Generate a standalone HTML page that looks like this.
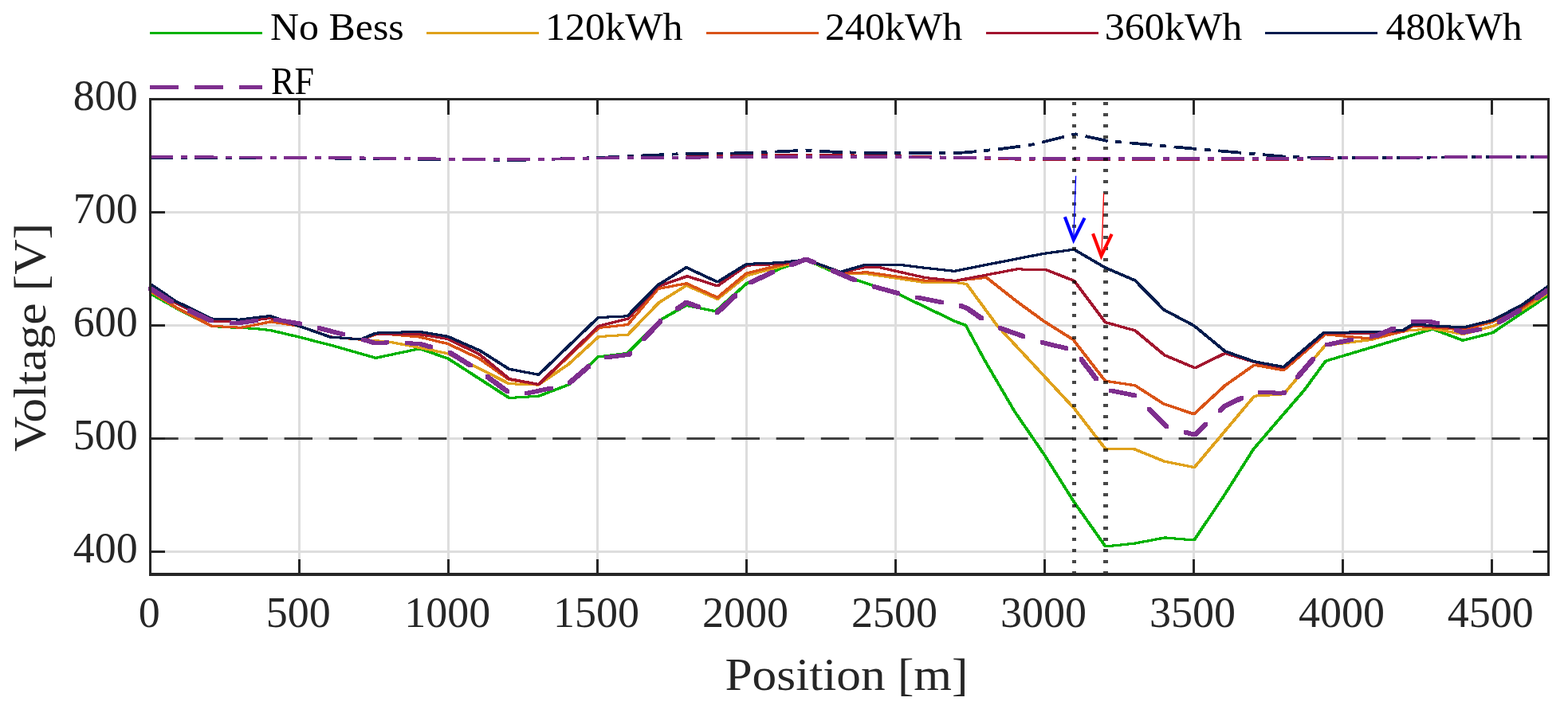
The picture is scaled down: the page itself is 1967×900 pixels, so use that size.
<!DOCTYPE html>
<html><head><meta charset="utf-8"><title>Voltage vs Position</title>
<style>html,body{margin:0;padding:0;background:#fff;width:1967px;height:900px;overflow:hidden}svg{display:block}</style>
</head><body>
<svg width="1967" height="900" viewBox="0 0 1967 900">
<defs><filter id="dil" x="0" y="0" width="1967" height="900" filterUnits="userSpaceOnUse"><feMorphology operator="dilate" radius="1"/></filter><filter id="dil2" x="0" y="0" width="1967" height="900" filterUnits="userSpaceOnUse"><feMorphology operator="dilate" radius="2"/></filter></defs>
<rect width="1967" height="900" fill="#fff"/>
<rect x="374" y="126" width="3" height="593" fill="#DDDDDD" shape-rendering="crispEdges"/>
<rect x="561" y="126" width="3" height="593" fill="#DDDDDD" shape-rendering="crispEdges"/>
<rect x="748" y="126" width="3" height="593" fill="#DDDDDD" shape-rendering="crispEdges"/>
<rect x="935" y="126" width="3" height="593" fill="#DDDDDD" shape-rendering="crispEdges"/>
<rect x="1122" y="126" width="3" height="593" fill="#DDDDDD" shape-rendering="crispEdges"/>
<rect x="1309" y="126" width="3" height="593" fill="#DDDDDD" shape-rendering="crispEdges"/>
<rect x="1496" y="126" width="3" height="593" fill="#DDDDDD" shape-rendering="crispEdges"/>
<rect x="1683" y="126" width="3" height="593" fill="#DDDDDD" shape-rendering="crispEdges"/>
<rect x="1870" y="126" width="3" height="593" fill="#DDDDDD" shape-rendering="crispEdges"/>
<rect x="190" y="265" width="1751" height="3" fill="#DDDDDD" shape-rendering="crispEdges"/>
<rect x="190" y="407" width="1751" height="3" fill="#DDDDDD" shape-rendering="crispEdges"/>
<rect x="190" y="549" width="1751" height="3" fill="#DDDDDD" shape-rendering="crispEdges"/>
<rect x="190" y="691" width="1751" height="3" fill="#DDDDDD" shape-rendering="crispEdges"/>
<polyline points="188.4,197.1 420.0,198.0 540.0,199.3 600.0,200.3 660.0,200.3 700.0,199.5 750.0,198.5 800.0,198.0 860.0,197.5 880.0,195.8 940.0,195.5 1011.0,195.0 1100.0,195.6 1140.0,196.5 1250.0,199.0 1300.0,200.3 1500.0,200.6 1615.0,200.2 1680.0,198.6 1730.0,197.9 1845.0,197.2 1942.2,196.7" fill="none" stroke="#A2142F" stroke-width="3.8" stroke-linejoin="miter" stroke-miterlimit="3" shape-rendering="crispEdges" stroke-dasharray="28.7 9.7 7.9 9.7"/>
<polyline points="188.4,198.3 420.0,198.6 540.0,199.8 600.0,200.6 660.0,200.6 700.0,199.5 750.0,198.0 787.0,196.3 825.0,194.5 861.0,192.8 936.7,192.3 1011.3,188.6 1050.0,191.0 1100.0,192.2 1200.0,192.2 1225.0,190.2 1258.1,186.6 1296.3,181.3 1335.9,171.4 1349.6,168.3 1387.8,176.7 1445.7,182.0 1500.6,186.9 1560.0,192.0 1610.0,196.5 1650.0,197.8 1730.0,198.0 1845.0,197.3 1942.2,196.8" fill="none" stroke="#011B4E" stroke-width="3.8" stroke-linejoin="miter" stroke-miterlimit="3" shape-rendering="crispEdges" stroke-dasharray="28.7 9.7 7.9 9.7"/>
<polyline points="188.4,197.1 420.0,198.0 540.0,199.3 600.0,200.3 660.0,200.3 700.0,199.5 750.0,198.5 800.0,198.0 940.0,197.3 1011.0,196.8 1100.0,197.0 1250.0,198.4 1300.0,199.1 1500.0,199.4 1615.0,199.1 1730.0,197.9 1845.0,197.2 1942.2,196.7" fill="none" stroke="#7E2F8E" stroke-width="3.8" stroke-linejoin="miter" stroke-miterlimit="3" shape-rendering="crispEdges" stroke-dasharray="28.7 9.7 7.9 9.7"/>
<polyline points="188.4,368.5 222.0,387.2 265.6,409.5 302.5,411.8 316.8,412.1 338.8,414.5 375.4,423.1 420.0,434.6 471.3,449.3 526.3,437.7 561.8,449.9 638.7,499.5 675.8,497.2 714.3,482.5 750.4,447.7 758.3,447.0 787.0,443.4 830.4,400.4 861.0,383.3 897.6,390.7 936.7,355.8 979.5,336.9 1011.3,326.0 1048.4,342.5 1128.6,370.0 1198.0,403.3 1211.5,408.4 1235.4,452.5 1272.8,516.5 1310.2,571.0 1347.6,630.5 1386.8,686.0 1422.2,682.3 1461.3,674.9 1498.0,678.0 1535.6,622.0 1572.3,564.0 1610.0,520.0 1636.0,490.0 1662.8,453.3 1797.2,413.0 1835.1,427.2 1872.2,417.8 1908.9,393.3 1942.2,370.6" fill="none" stroke="#00B200" stroke-width="1" shape-rendering="crispEdges" filter="url(#dil)"/>
<polyline points="188.4,365.3 222.0,386.8 265.6,409.3 302.5,411.3 340.0,403.9 375.4,409.3 414.5,423.0 453.0,426.2 488.4,429.1 526.3,436.4 561.8,443.8 601.0,462.5 638.7,481.7 675.2,483.1 713.1,457.4 751.0,422.6 787.6,420.2 826.8,379.7 861.0,358.3 900.1,375.4 936.7,346.0 979.5,334.4 1011.3,326.0 1057.8,344.0 1087.1,343.6 1160.4,354.6 1198.3,354.4 1212.6,356.5 1251.0,408.8 1347.5,512.6 1386.6,563.3 1423.3,563.9 1461.1,579.3 1498.4,586.6 1573.5,497.2 1610.2,494.8 1662.2,433.8 1720.2,426.4 1760.5,415.5 1797.2,412.5 1835.6,419.5 1874.4,408.9 1908.9,389.0 1942.2,367.8" fill="none" stroke="#DFA11A" stroke-width="1" shape-rendering="crispEdges" filter="url(#dil)"/>
<polyline points="188.4,364.8 222.0,386.5 265.6,409.3 302.5,411.3 340.0,403.7 375.4,409.3 414.5,422.9 453.0,426.3 471.3,419.8 493.0,420.0 526.3,423.0 561.8,431.5 600.9,449.9 638.7,476.5 675.8,483.0 751.0,411.5 787.6,407.5 825.5,362.5 861.0,355.8 900.1,373.5 936.7,343.0 979.5,332.6 1011.3,326.0 1057.8,343.0 1087.1,341.8 1160.4,352.2 1198.3,352.5 1237.4,348.3 1275.3,378.2 1310.0,403.5 1346.2,426.3 1386.5,478.2 1423.8,483.8 1459.9,507.0 1497.8,519.8 1536.9,483.8 1573.5,458.1 1610.2,464.8 1662.2,419.7 1720.2,425.2 1760.5,416.0 1772.8,409.0 1797.2,411.0 1835.6,414.0 1872.2,404.0 1908.9,387.0 1942.2,363.0" fill="none" stroke="#D95319" stroke-width="1" shape-rendering="crispEdges" filter="url(#dil)"/>
<polyline points="188.4,359.2 220.2,380.3 266.0,403.0 300.9,404.5 338.8,399.3 375.4,409.3 414.5,422.9 453.0,426.0 471.3,419.2 488.4,419.5 523.9,419.3 561.8,425.4 600.9,444.4 638.7,475.5 675.8,482.5 751.0,409.2 787.6,400.2 825.5,359.5 862.2,346.7 900.1,358.9 936.7,333.2 979.5,331.4 1011.3,325.9 1055.3,341.8 1087.1,335.1 1102.0,335.4 1160.4,348.5 1198.3,352.5 1235.4,345.5 1275.3,337.9 1312.0,338.5 1347.4,352.5 1386.5,404.5 1423.8,414.9 1461.1,445.9 1499.0,461.8 1536.9,443.4 1573.5,454.4 1610.2,461.8 1660.9,418.5 1727.5,418.0 1760.5,415.5 1772.8,408.0 1797.2,410.0 1835.6,412.0 1872.2,402.0 1908.9,385.0 1942.2,361.0" fill="none" stroke="#A2142F" stroke-width="1" shape-rendering="crispEdges" filter="url(#dil)"/>
<polyline points="188.4,356.5 220.2,378.0 266.0,400.3 300.9,401.1 338.8,396.5 414.5,423.1 453.0,426.0 471.3,418.1 488.4,417.5 526.3,416.3 561.8,422.4 602.1,440.1 638.7,463.3 675.8,470.3 750.4,398.6 787.0,396.8 825.5,357.7 861.0,335.7 900.1,354.0 936.7,331.4 979.5,329.6 1011.3,325.9 1054.0,341.5 1084.6,332.6 1131.1,332.6 1160.4,336.3 1197.1,340.3 1235.4,332.8 1272.8,325.4 1309.5,318.3 1347.4,313.2 1386.5,336.0 1423.8,352.0 1459.9,388.7 1497.8,408.8 1536.9,441.0 1573.5,453.8 1610.2,460.6 1660.9,417.3 1727.5,416.7 1760.5,414.2 1772.8,406.9 1797.2,408.7 1835.6,411.0 1872.2,402.2 1908.9,383.0 1942.2,359.4" fill="none" stroke="#011B4E" stroke-width="1" shape-rendering="crispEdges" filter="url(#dil)"/>
<polyline points="188.4,362.0 220.2,382.0 266.7,403.5 296.0,406.0 338.8,400.0 379.0,406.6 420.0,416.9 453.0,425.4 471.3,430.9 488.4,429.7 526.3,431.5 543.4,436.4 564.2,442.5 602.0,466.0 640.0,493.9 659.3,494.1 693.5,486.8 714.3,480.7 740.0,458.7 758.3,448.9 788.9,445.2 830.4,401.2 861.0,379.7 898.9,393.1 938.0,356.4 969.8,341.2 989.3,333.8 1011.3,325.3 1074.9,352.8 1093.2,358.9 1128.6,368.7 1148.2,372.9 1182.4,379.7 1203.2,383.1 1213.0,386.8 1233.8,401.4 1252.1,411.0 1285.1,422.6 1304.6,429.3 1347.6,439.5 1385.0,488.5 1424.4,496.6 1465.0,537.0 1499.0,545.7 1536.9,509.4 1573.5,492.0 1610.2,493.5 1662.2,433.5 1697.0,425.8 1727.5,421.0 1750.8,411.2 1771.5,403.2 1793.5,403.8 1805.8,406.3 1835.1,417.3 1858.3,413.0 1877.8,406.1 1908.9,387.8 1942.2,363.9" fill="none" stroke="#7E2F8E" stroke-width="1" stroke-dasharray="32 24" shape-rendering="crispEdges" filter="url(#dil2)"/>
<line x1="188.3" y1="550.5" x2="1941" y2="550.5" stroke="rgba(0,0,0,0.71)" stroke-width="3" stroke-dasharray="35.4 20.7"/>
<rect x="1345" y="128" width="5" height="4" fill="rgba(0,0,0,0.72)" shape-rendering="crispEdges"/>
<rect x="1345" y="142" width="5" height="4" fill="rgba(0,0,0,0.72)" shape-rendering="crispEdges"/>
<rect x="1345" y="156" width="5" height="4" fill="rgba(0,0,0,0.72)" shape-rendering="crispEdges"/>
<rect x="1345" y="170" width="5" height="4" fill="rgba(0,0,0,0.72)" shape-rendering="crispEdges"/>
<rect x="1345" y="184" width="5" height="4" fill="rgba(0,0,0,0.72)" shape-rendering="crispEdges"/>
<rect x="1345" y="198" width="5" height="4" fill="rgba(0,0,0,0.72)" shape-rendering="crispEdges"/>
<rect x="1345" y="212" width="5" height="4" fill="rgba(0,0,0,0.72)" shape-rendering="crispEdges"/>
<rect x="1345" y="226" width="5" height="4" fill="rgba(0,0,0,0.72)" shape-rendering="crispEdges"/>
<rect x="1345" y="240" width="5" height="4" fill="rgba(0,0,0,0.72)" shape-rendering="crispEdges"/>
<rect x="1345" y="254" width="5" height="4" fill="rgba(0,0,0,0.72)" shape-rendering="crispEdges"/>
<rect x="1345" y="268" width="5" height="4" fill="rgba(0,0,0,0.72)" shape-rendering="crispEdges"/>
<rect x="1345" y="282" width="5" height="4" fill="rgba(0,0,0,0.72)" shape-rendering="crispEdges"/>
<rect x="1345" y="296" width="5" height="4" fill="rgba(0,0,0,0.72)" shape-rendering="crispEdges"/>
<rect x="1345" y="310" width="5" height="4" fill="rgba(0,0,0,0.72)" shape-rendering="crispEdges"/>
<rect x="1345" y="324" width="5" height="4" fill="rgba(0,0,0,0.72)" shape-rendering="crispEdges"/>
<rect x="1345" y="338" width="5" height="4" fill="rgba(0,0,0,0.72)" shape-rendering="crispEdges"/>
<rect x="1345" y="352" width="5" height="4" fill="rgba(0,0,0,0.72)" shape-rendering="crispEdges"/>
<rect x="1345" y="366" width="5" height="4" fill="rgba(0,0,0,0.72)" shape-rendering="crispEdges"/>
<rect x="1345" y="380" width="5" height="4" fill="rgba(0,0,0,0.72)" shape-rendering="crispEdges"/>
<rect x="1345" y="394" width="5" height="4" fill="rgba(0,0,0,0.72)" shape-rendering="crispEdges"/>
<rect x="1345" y="408" width="5" height="4" fill="rgba(0,0,0,0.72)" shape-rendering="crispEdges"/>
<rect x="1345" y="422" width="5" height="4" fill="rgba(0,0,0,0.72)" shape-rendering="crispEdges"/>
<rect x="1345" y="436" width="5" height="4" fill="rgba(0,0,0,0.72)" shape-rendering="crispEdges"/>
<rect x="1345" y="450" width="5" height="4" fill="rgba(0,0,0,0.72)" shape-rendering="crispEdges"/>
<rect x="1345" y="464" width="5" height="4" fill="rgba(0,0,0,0.72)" shape-rendering="crispEdges"/>
<rect x="1345" y="478" width="5" height="4" fill="rgba(0,0,0,0.72)" shape-rendering="crispEdges"/>
<rect x="1345" y="493" width="5" height="4" fill="rgba(0,0,0,0.72)" shape-rendering="crispEdges"/>
<rect x="1345" y="507" width="5" height="4" fill="rgba(0,0,0,0.72)" shape-rendering="crispEdges"/>
<rect x="1345" y="521" width="5" height="4" fill="rgba(0,0,0,0.72)" shape-rendering="crispEdges"/>
<rect x="1345" y="535" width="5" height="4" fill="rgba(0,0,0,0.72)" shape-rendering="crispEdges"/>
<rect x="1345" y="549" width="5" height="4" fill="rgba(0,0,0,0.72)" shape-rendering="crispEdges"/>
<rect x="1345" y="563" width="5" height="4" fill="rgba(0,0,0,0.72)" shape-rendering="crispEdges"/>
<rect x="1345" y="577" width="5" height="4" fill="rgba(0,0,0,0.72)" shape-rendering="crispEdges"/>
<rect x="1345" y="591" width="5" height="4" fill="rgba(0,0,0,0.72)" shape-rendering="crispEdges"/>
<rect x="1345" y="605" width="5" height="4" fill="rgba(0,0,0,0.72)" shape-rendering="crispEdges"/>
<rect x="1345" y="619" width="5" height="4" fill="rgba(0,0,0,0.72)" shape-rendering="crispEdges"/>
<rect x="1345" y="633" width="5" height="4" fill="rgba(0,0,0,0.72)" shape-rendering="crispEdges"/>
<rect x="1345" y="647" width="5" height="4" fill="rgba(0,0,0,0.72)" shape-rendering="crispEdges"/>
<rect x="1345" y="661" width="5" height="4" fill="rgba(0,0,0,0.72)" shape-rendering="crispEdges"/>
<rect x="1345" y="675" width="5" height="4" fill="rgba(0,0,0,0.72)" shape-rendering="crispEdges"/>
<rect x="1345" y="689" width="5" height="4" fill="rgba(0,0,0,0.72)" shape-rendering="crispEdges"/>
<rect x="1345" y="703" width="5" height="4" fill="rgba(0,0,0,0.72)" shape-rendering="crispEdges"/>
<rect x="1345" y="717" width="5" height="4" fill="rgba(0,0,0,0.72)" shape-rendering="crispEdges"/>
<rect x="1384" y="128" width="6" height="4" fill="rgba(0,0,0,0.72)" shape-rendering="crispEdges"/>
<rect x="1384" y="142" width="6" height="4" fill="rgba(0,0,0,0.72)" shape-rendering="crispEdges"/>
<rect x="1384" y="156" width="6" height="4" fill="rgba(0,0,0,0.72)" shape-rendering="crispEdges"/>
<rect x="1384" y="170" width="6" height="4" fill="rgba(0,0,0,0.72)" shape-rendering="crispEdges"/>
<rect x="1384" y="184" width="6" height="4" fill="rgba(0,0,0,0.72)" shape-rendering="crispEdges"/>
<rect x="1384" y="198" width="6" height="4" fill="rgba(0,0,0,0.72)" shape-rendering="crispEdges"/>
<rect x="1384" y="212" width="6" height="4" fill="rgba(0,0,0,0.72)" shape-rendering="crispEdges"/>
<rect x="1384" y="226" width="6" height="4" fill="rgba(0,0,0,0.72)" shape-rendering="crispEdges"/>
<rect x="1384" y="240" width="6" height="4" fill="rgba(0,0,0,0.72)" shape-rendering="crispEdges"/>
<rect x="1384" y="254" width="6" height="4" fill="rgba(0,0,0,0.72)" shape-rendering="crispEdges"/>
<rect x="1384" y="268" width="6" height="4" fill="rgba(0,0,0,0.72)" shape-rendering="crispEdges"/>
<rect x="1384" y="282" width="6" height="4" fill="rgba(0,0,0,0.72)" shape-rendering="crispEdges"/>
<rect x="1384" y="296" width="6" height="4" fill="rgba(0,0,0,0.72)" shape-rendering="crispEdges"/>
<rect x="1384" y="310" width="6" height="4" fill="rgba(0,0,0,0.72)" shape-rendering="crispEdges"/>
<rect x="1384" y="324" width="6" height="4" fill="rgba(0,0,0,0.72)" shape-rendering="crispEdges"/>
<rect x="1384" y="338" width="6" height="4" fill="rgba(0,0,0,0.72)" shape-rendering="crispEdges"/>
<rect x="1384" y="352" width="6" height="4" fill="rgba(0,0,0,0.72)" shape-rendering="crispEdges"/>
<rect x="1384" y="366" width="6" height="4" fill="rgba(0,0,0,0.72)" shape-rendering="crispEdges"/>
<rect x="1384" y="380" width="6" height="4" fill="rgba(0,0,0,0.72)" shape-rendering="crispEdges"/>
<rect x="1384" y="394" width="6" height="4" fill="rgba(0,0,0,0.72)" shape-rendering="crispEdges"/>
<rect x="1384" y="408" width="6" height="4" fill="rgba(0,0,0,0.72)" shape-rendering="crispEdges"/>
<rect x="1384" y="422" width="6" height="4" fill="rgba(0,0,0,0.72)" shape-rendering="crispEdges"/>
<rect x="1384" y="436" width="6" height="4" fill="rgba(0,0,0,0.72)" shape-rendering="crispEdges"/>
<rect x="1384" y="450" width="6" height="4" fill="rgba(0,0,0,0.72)" shape-rendering="crispEdges"/>
<rect x="1384" y="464" width="6" height="4" fill="rgba(0,0,0,0.72)" shape-rendering="crispEdges"/>
<rect x="1384" y="478" width="6" height="4" fill="rgba(0,0,0,0.72)" shape-rendering="crispEdges"/>
<rect x="1384" y="493" width="6" height="4" fill="rgba(0,0,0,0.72)" shape-rendering="crispEdges"/>
<rect x="1384" y="507" width="6" height="4" fill="rgba(0,0,0,0.72)" shape-rendering="crispEdges"/>
<rect x="1384" y="521" width="6" height="4" fill="rgba(0,0,0,0.72)" shape-rendering="crispEdges"/>
<rect x="1384" y="535" width="6" height="4" fill="rgba(0,0,0,0.72)" shape-rendering="crispEdges"/>
<rect x="1384" y="549" width="6" height="4" fill="rgba(0,0,0,0.72)" shape-rendering="crispEdges"/>
<rect x="1384" y="563" width="6" height="4" fill="rgba(0,0,0,0.72)" shape-rendering="crispEdges"/>
<rect x="1384" y="577" width="6" height="4" fill="rgba(0,0,0,0.72)" shape-rendering="crispEdges"/>
<rect x="1384" y="591" width="6" height="4" fill="rgba(0,0,0,0.72)" shape-rendering="crispEdges"/>
<rect x="1384" y="605" width="6" height="4" fill="rgba(0,0,0,0.72)" shape-rendering="crispEdges"/>
<rect x="1384" y="619" width="6" height="4" fill="rgba(0,0,0,0.72)" shape-rendering="crispEdges"/>
<rect x="1384" y="633" width="6" height="4" fill="rgba(0,0,0,0.72)" shape-rendering="crispEdges"/>
<rect x="1384" y="647" width="6" height="4" fill="rgba(0,0,0,0.72)" shape-rendering="crispEdges"/>
<rect x="1384" y="661" width="6" height="4" fill="rgba(0,0,0,0.72)" shape-rendering="crispEdges"/>
<rect x="1384" y="675" width="6" height="4" fill="rgba(0,0,0,0.72)" shape-rendering="crispEdges"/>
<rect x="1384" y="689" width="6" height="4" fill="rgba(0,0,0,0.72)" shape-rendering="crispEdges"/>
<rect x="1384" y="703" width="6" height="4" fill="rgba(0,0,0,0.72)" shape-rendering="crispEdges"/>
<rect x="1384" y="717" width="6" height="4" fill="rgba(0,0,0,0.72)" shape-rendering="crispEdges"/>
<line x1="1349.6" y1="220.8" x2="1346.7" y2="303" stroke="#0000FF" stroke-width="1.3"/>
<polyline points="1335.8,272.3 1346.8,301.2 1360.6,273.6" fill="none" stroke="#0000FF" stroke-width="4.1" stroke-linejoin="miter" stroke-miterlimit="10"/>
<line x1="1384.6" y1="242.5" x2="1381.8" y2="324" stroke="#FF0000" stroke-width="1.3"/>
<polyline points="1371,293.2 1381.5,321.3 1394.7,293.9" fill="none" stroke="#FF0000" stroke-width="4.1" stroke-linejoin="miter" stroke-miterlimit="10"/>
<rect x="187" y="123" width="1757" height="3" fill="#262626" shape-rendering="crispEdges"/>
<rect x="187" y="719" width="1757" height="4" fill="#262626" shape-rendering="crispEdges"/>
<rect x="187" y="123" width="3" height="600" fill="#262626" shape-rendering="crispEdges"/>
<rect x="1941" y="123" width="3" height="600" fill="#262626" shape-rendering="crispEdges"/>
<rect x="374" y="702" width="3" height="17" fill="#262626" shape-rendering="crispEdges"/>
<rect x="374" y="126" width="3" height="18" fill="#262626" shape-rendering="crispEdges"/>
<rect x="561" y="702" width="3" height="17" fill="#262626" shape-rendering="crispEdges"/>
<rect x="561" y="126" width="3" height="18" fill="#262626" shape-rendering="crispEdges"/>
<rect x="748" y="702" width="3" height="17" fill="#262626" shape-rendering="crispEdges"/>
<rect x="748" y="126" width="3" height="18" fill="#262626" shape-rendering="crispEdges"/>
<rect x="935" y="702" width="3" height="17" fill="#262626" shape-rendering="crispEdges"/>
<rect x="935" y="126" width="3" height="18" fill="#262626" shape-rendering="crispEdges"/>
<rect x="1122" y="702" width="3" height="17" fill="#262626" shape-rendering="crispEdges"/>
<rect x="1122" y="126" width="3" height="18" fill="#262626" shape-rendering="crispEdges"/>
<rect x="1309" y="702" width="3" height="17" fill="#262626" shape-rendering="crispEdges"/>
<rect x="1309" y="126" width="3" height="18" fill="#262626" shape-rendering="crispEdges"/>
<rect x="1496" y="702" width="3" height="17" fill="#262626" shape-rendering="crispEdges"/>
<rect x="1496" y="126" width="3" height="18" fill="#262626" shape-rendering="crispEdges"/>
<rect x="1683" y="702" width="3" height="17" fill="#262626" shape-rendering="crispEdges"/>
<rect x="1683" y="126" width="3" height="18" fill="#262626" shape-rendering="crispEdges"/>
<rect x="1870" y="702" width="3" height="17" fill="#262626" shape-rendering="crispEdges"/>
<rect x="1870" y="126" width="3" height="18" fill="#262626" shape-rendering="crispEdges"/>
<rect x="190" y="265" width="17" height="3" fill="#262626" shape-rendering="crispEdges"/>
<rect x="1923" y="265" width="18" height="3" fill="#262626" shape-rendering="crispEdges"/>
<rect x="190" y="407" width="17" height="3" fill="#262626" shape-rendering="crispEdges"/>
<rect x="1923" y="407" width="18" height="3" fill="#262626" shape-rendering="crispEdges"/>
<rect x="190" y="549" width="17" height="3" fill="#262626" shape-rendering="crispEdges"/>
<rect x="1923" y="549" width="18" height="3" fill="#262626" shape-rendering="crispEdges"/>
<rect x="190" y="691" width="17" height="3" fill="#262626" shape-rendering="crispEdges"/>
<rect x="1923" y="691" width="18" height="3" fill="#262626" shape-rendering="crispEdges"/>
<text x="172.8" y="137.7" font-family="Liberation Serif, serif" font-size="54" fill="#262626" text-anchor="end">800</text>
<text x="172.8" y="279.7" font-family="Liberation Serif, serif" font-size="54" fill="#262626" text-anchor="end">700</text>
<text x="172.8" y="421.6" font-family="Liberation Serif, serif" font-size="54" fill="#262626" text-anchor="end">600</text>
<text x="172.8" y="563.6" font-family="Liberation Serif, serif" font-size="54" fill="#262626" text-anchor="end">500</text>
<text x="172.8" y="705.6" font-family="Liberation Serif, serif" font-size="54" fill="#262626" text-anchor="end">400</text>
<text x="187.3" y="787" font-family="Liberation Serif, serif" font-size="54" fill="#262626" text-anchor="middle">0</text>
<text x="374.2" y="787" font-family="Liberation Serif, serif" font-size="54" fill="#262626" text-anchor="middle">500</text>
<text x="561.2" y="787" font-family="Liberation Serif, serif" font-size="54" fill="#262626" text-anchor="middle">1000</text>
<text x="748.1" y="787" font-family="Liberation Serif, serif" font-size="54" fill="#262626" text-anchor="middle">1500</text>
<text x="935.1" y="787" font-family="Liberation Serif, serif" font-size="54" fill="#262626" text-anchor="middle">2000</text>
<text x="1122.0" y="787" font-family="Liberation Serif, serif" font-size="54" fill="#262626" text-anchor="middle">2500</text>
<text x="1309.0" y="787" font-family="Liberation Serif, serif" font-size="54" fill="#262626" text-anchor="middle">3000</text>
<text x="1495.9" y="787" font-family="Liberation Serif, serif" font-size="54" fill="#262626" text-anchor="middle">3500</text>
<text x="1682.9" y="787" font-family="Liberation Serif, serif" font-size="54" fill="#262626" text-anchor="middle">4000</text>
<text x="1869.8" y="787" font-family="Liberation Serif, serif" font-size="54" fill="#262626" text-anchor="middle">4500</text>
<text x="1062" y="866" font-family="Liberation Serif, serif" font-size="58" fill="#262626" text-anchor="middle" textLength="305" lengthAdjust="spacingAndGlyphs">Position [m]</text>
<text transform="translate(57,423.5) rotate(-90)" x="0" y="0" font-family="Liberation Serif, serif" font-size="58" fill="#262626" text-anchor="middle" textLength="287" lengthAdjust="spacingAndGlyphs">Voltage [V]</text>
<line x1="188" y1="41.5" x2="329" y2="41.5" stroke="#00B200" stroke-width="3" shape-rendering="crispEdges"/>
<text x="339" y="50.3" font-family="Liberation Serif, serif" font-size="49" fill="#000" textLength="167.8" lengthAdjust="spacingAndGlyphs">No Bess</text>
<line x1="535" y1="41.5" x2="676" y2="41.5" stroke="#DFA11A" stroke-width="3" shape-rendering="crispEdges"/>
<text x="684" y="50.3" font-family="Liberation Serif, serif" font-size="49" fill="#000" textLength="172.6" lengthAdjust="spacingAndGlyphs">120kWh</text>
<line x1="886" y1="41.5" x2="1027" y2="41.5" stroke="#D95319" stroke-width="3" shape-rendering="crispEdges"/>
<text x="1035" y="50.3" font-family="Liberation Serif, serif" font-size="49" fill="#000" textLength="172.4" lengthAdjust="spacingAndGlyphs">240kWh</text>
<line x1="1237" y1="41.5" x2="1378" y2="41.5" stroke="#A2142F" stroke-width="3" shape-rendering="crispEdges"/>
<text x="1385.8" y="50.3" font-family="Liberation Serif, serif" font-size="49" fill="#000" textLength="172.4" lengthAdjust="spacingAndGlyphs">360kWh</text>
<line x1="1587" y1="41.5" x2="1728" y2="41.5" stroke="#011B4E" stroke-width="3" shape-rendering="crispEdges"/>
<text x="1738.6" y="50.3" font-family="Liberation Serif, serif" font-size="49" fill="#000" textLength="171" lengthAdjust="spacingAndGlyphs">480kWh</text>
<line x1="188" y1="109.5" x2="329" y2="109.5" stroke="#7E2F8E" stroke-width="5" stroke-dasharray="36 20" shape-rendering="crispEdges"/>
<text x="340" y="118" font-family="Liberation Serif, serif" font-size="49" fill="#000" textLength="53.9" lengthAdjust="spacingAndGlyphs">RF</text>
</svg>
</body></html>
